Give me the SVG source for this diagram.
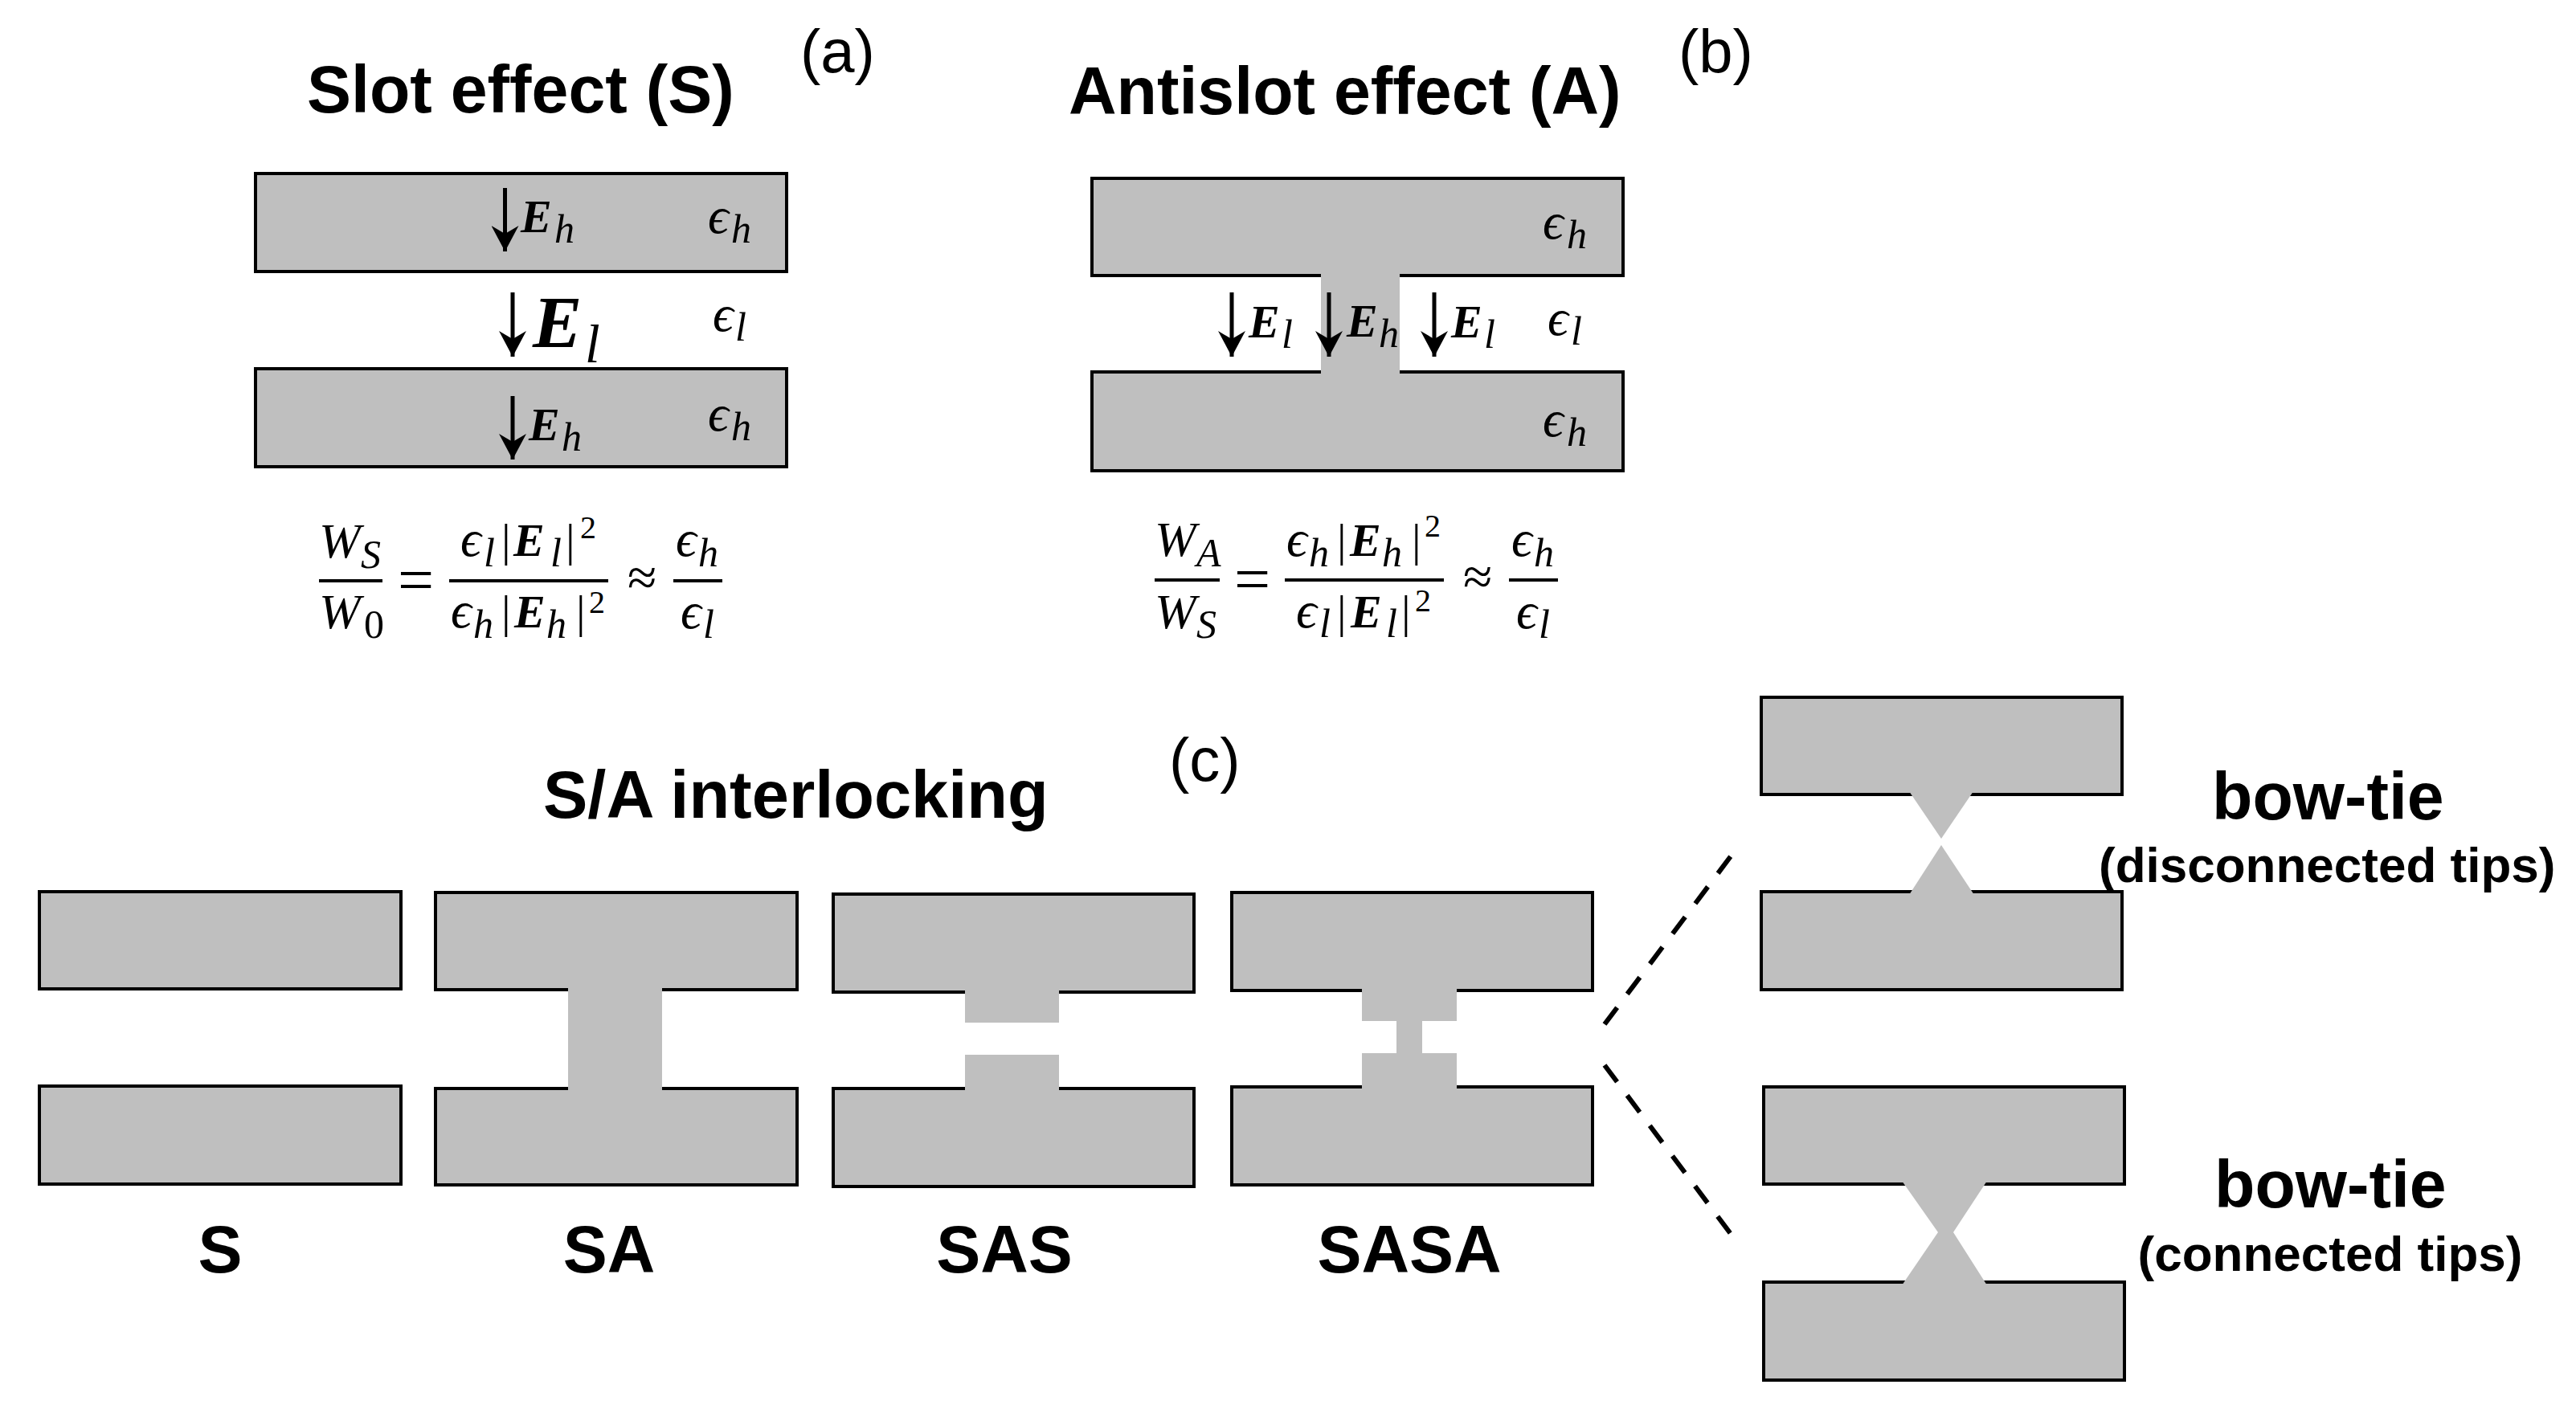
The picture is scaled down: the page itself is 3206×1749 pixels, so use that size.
<svg xmlns="http://www.w3.org/2000/svg" width="3206" height="1749" viewBox="0 0 3206 1749">
<style>
text{fill:#000}
.b{fill:#bfbfbf;stroke:#000;stroke-width:4}
.n{fill:#bfbfbf;stroke:none}
.bar{stroke:#000;stroke-width:4;fill:none}
.t{font-family:"Liberation Sans",Arial,sans-serif;font-weight:bold;font-size:82.5px}
.s{font-family:"Liberation Sans",Arial,sans-serif;font-weight:bold;font-size:62px}
.p{font-family:"Liberation Sans",Arial,sans-serif;font-size:76px}
.m{font-family:"Liberation Serif","DejaVu Serif",serif;font-style:italic;font-size:64px}
.m tspan.u{font-size:50px}
.m tspan.E{font-weight:bold;font-size:58px}
.m tspan.W{font-size:62px}
.m tspan.r{font-style:normal;font-size:58px}
.m tspan.R{font-style:normal;font-size:40px}
.o{font-family:"Liberation Serif","DejaVu Serif",serif;font-size:80px}
.o2{font-family:"Liberation Serif","DejaVu Serif",serif;font-size:66px}
.a{stroke:#000;stroke-width:5;fill:none;marker-end:url(#h)}
.d{stroke:#000;stroke-width:6;fill:none;stroke-dasharray:26 21}
</style>
<defs>
<marker id="h" markerUnits="userSpaceOnUse" markerWidth="36" markerHeight="34" refX="32" refY="17" orient="auto"><path d="M32 17L0 0L10 17L0 34Z" fill="#000"/></marker>
</defs>
<rect width="3206" height="1749" fill="#fff"/>

<g id="panel-a">
<text class="p" x="996" y="90">(a)</text>
<text class="t" x="382" y="140">Slot effect (S)</text>
<rect class="b" x="318" y="216" width="661" height="122"/>
<rect class="b" x="318" y="459" width="661" height="122"/>
<text class="m" x="648" y="289"><tspan class="E">E</tspan><tspan class="u" x="690" y="302">h</tspan></text>
<text class="m" x="881" y="290">ϵ<tspan class="u" x="910" y="302">h</tspan></text>
<text class="m" x="663" y="432"><tspan class="E" style="font-size:92px">E</tspan><tspan style="font-size:67px" x="728" y="451">l</tspan></text>
<text class="m" x="887" y="412">ϵ<tspan class="u" x="915" y="424">l</tspan></text>
<text class="m" x="658" y="548"><tspan class="E">E</tspan><tspan class="u" x="699" y="561">h</tspan></text>
<text class="m" x="881" y="536">ϵ<tspan class="u" x="910" y="548">h</tspan></text>
</g>

<g id="formula-a">
<text class="m" x="397" y="694"><tspan class="W">W</tspan><tspan class="u" x="449" y="707">S</tspan></text>
<text class="m" x="397" y="782"><tspan class="W">W</tspan><tspan class="u" style="font-style:normal" x="453" y="794">0</tspan></text>
<line class="bar" x1="397" y1="723" x2="476" y2="723"/>
<text class="o" x="495" y="749">=</text>
<text class="m" x="573" y="692">ϵ<tspan class="u" x="602" y="705">l</tspan><tspan class="r" x="624" y="692">|</tspan><tspan class="E" x="639" y="692">E</tspan><tspan class="u" x="685" y="705">l</tspan><tspan class="r" x="704" y="692">|</tspan><tspan class="R" x="722" y="670">2</tspan></text>
<line class="bar" x1="559" y1="723" x2="757" y2="723"/>
<text class="m" x="561" y="781">ϵ<tspan class="u" x="589" y="794">h</tspan><tspan class="r" x="624" y="781">|</tspan><tspan class="E" x="640" y="781">E</tspan><tspan class="u" x="680" y="794">h</tspan><tspan class="r" x="717" y="781">|</tspan><tspan class="R" x="733" y="763">2</tspan></text>
<text class="o2" x="781" y="741">≈</text>
<text class="m" x="841" y="692">ϵ<tspan class="u" x="869" y="705">h</tspan></text>
<line class="bar" x1="838" y1="723" x2="899" y2="723"/>
<text class="m" x="847" y="782">ϵ<tspan class="u" x="875" y="794">l</tspan></text>
</g>

<g id="panel-b">
<text class="p" x="2089" y="90">(b)</text>
<text class="t" x="1330" y="142">Antislot effect (A)</text>
<rect class="b" x="1359" y="222" width="661" height="121"/>
<rect class="b" x="1359" y="463" width="661" height="123"/>
<rect class="n" x="1644" y="338" width="98" height="130"/>
<text class="m" x="1554" y="420"><tspan class="E">E</tspan><tspan class="u" x="1595" y="433">l</tspan></text>
<text class="m" x="1676" y="419"><tspan class="E">E</tspan><tspan class="u" x="1716" y="432">h</tspan></text>
<text class="m" x="1806" y="420"><tspan class="E">E</tspan><tspan class="u" x="1847" y="433">l</tspan></text>
<text class="m" x="1920" y="297">ϵ<tspan class="u" x="1950" y="309">h</tspan></text>
<text class="m" x="1926" y="417">ϵ<tspan class="u" x="1955" y="429">l</tspan></text>
<text class="m" x="1920" y="543">ϵ<tspan class="u" x="1950" y="555">h</tspan></text>
</g>

<g id="formula-b">
<text class="m" x="1437" y="692"><tspan class="W">W</tspan><tspan class="u" x="1489" y="705">A</tspan></text>
<text class="m" x="1437" y="782"><tspan class="W">W</tspan><tspan class="u" x="1489" y="794">S</tspan></text>
<line class="bar" x1="1437" y1="722" x2="1518" y2="722"/>
<text class="o" x="1536" y="748">=</text>
<text class="m" x="1601" y="692">ϵ<tspan class="u" x="1629" y="705">h</tspan><tspan class="r" x="1664" y="692">|</tspan><tspan class="E" x="1680" y="692">E</tspan><tspan class="u" x="1720" y="705">h</tspan><tspan class="r" x="1757" y="692">|</tspan><tspan class="R" x="1773" y="668">2</tspan></text>
<line class="bar" x1="1599" y1="722" x2="1797" y2="722"/>
<text class="m" x="1613" y="781">ϵ<tspan class="u" x="1642" y="793">l</tspan><tspan class="r" x="1664" y="781">|</tspan><tspan class="E" x="1681" y="781">E</tspan><tspan class="u" x="1725" y="793">l</tspan><tspan class="r" x="1744" y="781">|</tspan><tspan class="R" x="1761" y="761">2</tspan></text>
<text class="o2" x="1821" y="740">≈</text>
<text class="m" x="1881" y="692">ϵ<tspan class="u" x="1909" y="705">h</tspan></text>
<line class="bar" x1="1878" y1="722" x2="1939" y2="722"/>
<text class="m" x="1887" y="782">ϵ<tspan class="u" x="1915" y="794">l</tspan></text>
</g>

<g id="panel-c-labels">
<text class="t" style="font-size:83px" x="676" y="1018">S/A interlocking</text>
<text class="p" x="1455" y="972">(c)</text>
</g>

<g id="S">
<rect class="b" x="49" y="1110" width="450" height="121"/>
<rect class="b" x="49" y="1352" width="450" height="122"/>
<text class="t" x="274" y="1584" text-anchor="middle">S</text>
</g>
<g id="SA">
<rect class="b" x="542" y="1111" width="450" height="121"/>
<rect class="b" x="542" y="1355" width="450" height="120"/>
<rect class="n" x="707" y="1227" width="117" height="133"/>
<text class="t" x="758" y="1584" text-anchor="middle">SA</text>
</g>
<g id="SAS">
<rect class="b" x="1037" y="1113" width="449" height="122"/>
<rect class="b" x="1037" y="1355" width="449" height="122"/>
<rect class="n" x="1201" y="1230" width="117" height="43"/>
<rect class="n" x="1201" y="1313" width="117" height="47"/>
<text class="t" x="1250" y="1584" text-anchor="middle">SAS</text>
</g>
<g id="SASA">
<rect class="b" x="1533" y="1111" width="449" height="122"/>
<rect class="b" x="1533" y="1353" width="449" height="122"/>
<rect class="n" x="1695" y="1228" width="118" height="43"/>
<rect class="n" x="1695" y="1311" width="118" height="47"/>
<rect class="n" x="1738" y="1268" width="32" height="46"/>
<text class="t" x="1754" y="1584" text-anchor="middle">SASA</text>
</g>

<g id="bowtie-disconnected">
<rect class="b" x="2192" y="868" width="449" height="121"/>
<rect class="b" x="2192" y="1110" width="449" height="122"/>
<path class="n" d="M2376 985H2456L2416 1044Z"/>
<path class="n" d="M2376 1114L2416 1052L2457 1114Z"/>
<text class="t" x="2753" y="1020">bow-tie</text>
<text class="s" x="2612" y="1098">(disconnected tips)</text>
</g>
<g id="bowtie-connected">
<rect class="b" x="2195" y="1353" width="449" height="121"/>
<rect class="b" x="2195" y="1596" width="449" height="122"/>
<path class="n" d="M2367 1470H2473L2431 1534L2473 1600H2367L2412 1534Z"/>
<text class="t" x="2756" y="1503">bow-tie</text>
<text class="s" x="2900" y="1582" text-anchor="middle">(connected tips)</text>
</g>

<g id="connectors">
<line class="a" x1="628.5" y1="234" x2="628.5" y2="313"/>
<line class="a" x1="638" y1="364" x2="638" y2="444"/>
<line class="a" x1="638" y1="493" x2="638" y2="572"/>
<line class="a" x1="1533" y1="364" x2="1533" y2="444"/>
<line class="a" x1="1654" y1="364" x2="1654" y2="444"/>
<line class="a" x1="1785" y1="364" x2="1785" y2="444"/>
<line class="d" x1="1997" y1="1275" x2="2157" y2="1062"/>
<line class="d" x1="1997" y1="1326" x2="2157" y2="1540"/>
</g>
</svg>
